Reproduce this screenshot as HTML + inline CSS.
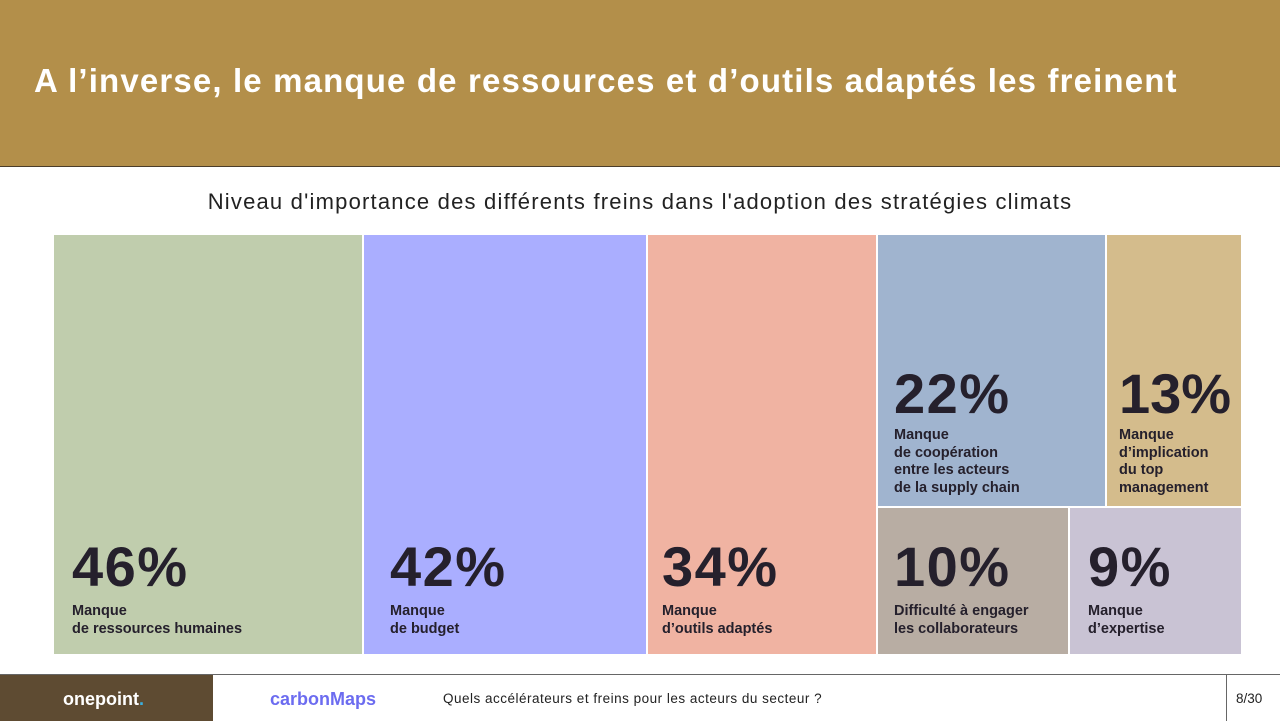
<!DOCTYPE html>
<html><head><meta charset="utf-8"><style>
body{margin:0;width:1280px;height:720px;position:relative;background:#fff;font-family:"Liberation Sans",sans-serif;overflow:hidden}
.hd{position:absolute;left:0;top:0;width:1280px;height:166px;background:#B38F4A;border-bottom:1px solid #4a3d2a}
.hd h1{position:absolute;left:34px;top:62px;margin:0;color:#fff;font-size:33px;font-weight:bold;letter-spacing:1.15px}
.sub{position:absolute;left:0;width:1280px;top:189px;text-align:center;font-size:22px;color:#222;letter-spacing:1.2px}
.c{position:absolute;color:#25202C}
.c .p{position:absolute;left:18px;font-size:56px;font-weight:900;letter-spacing:1.5px;line-height:1}
.c .l{position:absolute;left:18px;font-size:14.5px;font-weight:bold;line-height:17.5px}
.ft{position:absolute;left:0;top:674px;width:1280px;height:46px;border-top:1px solid #666}
</style></head><body>
<div class="hd"><h1>A l’inverse, le manque de ressources et d’outils adaptés les freinent</h1></div>
<div class="sub">Niveau d'importance des différents freins dans l'adoption des stratégies climats</div>

<div class="c" style="left:54px;top:235px;width:308px;height:419px;background:#C0CDAD"><div class="p" style="top:304px">46%</div><div class="l" style="top:368px">Manque<br>de ressources humaines</div></div>
<div class="c" style="left:364px;top:235px;width:282px;height:419px;background:#AAAEFF"><div class="p" style="left:26px;top:304px">42%</div><div class="l" style="left:26px;top:368px">Manque<br>de budget</div></div>
<div class="c" style="left:648px;top:235px;width:228px;height:419px;background:#F0B3A2"><div class="p" style="left:14px;top:304px">34%</div><div class="l" style="left:14px;top:368px">Manque<br>d’outils adaptés</div></div>
<div class="c" style="left:878px;top:235px;width:227px;height:271px;background:#A0B4CF"><div class="p" style="left:16px;top:131px">22%</div><div class="l" style="left:16px;top:192px">Manque<br>de coopération<br>entre les acteurs<br>de la supply chain</div></div>
<div class="c" style="left:1107px;top:235px;width:134px;height:271px;background:#D4BC8C"><div class="p" style="left:12px;top:131px;letter-spacing:0">13%</div><div class="l" style="left:12px;top:192px">Manque<br>d’implication<br>du top<br>management</div></div>
<div class="c" style="left:878px;top:508px;width:190px;height:146px;background:#B8ADA3"><div class="p" style="left:16px;top:31px">10%</div><div class="l" style="left:16px;top:95px">Difficulté à engager<br>les collaborateurs</div></div>
<div class="c" style="left:1070px;top:508px;width:171px;height:146px;background:#C9C3D4"><div class="p" style="left:18px;top:31px">9%</div><div class="l" style="left:18px;top:95px">Manque<br>d’expertise</div></div>

<div class="ft">
<div style="position:absolute;left:0;top:0;width:213px;height:46px;background:#5E4B32"></div>
<div style="position:absolute;left:63px;top:14px;color:#fff;font-weight:bold;font-size:18px">onepoint<span style="color:#3ab0e0">.</span></div>
<div style="position:absolute;left:270px;top:14px;color:#6C6CF0;font-weight:bold;font-size:18px">carbonMaps</div>
<div style="position:absolute;left:443px;top:16px;color:#222;font-size:13.5px;letter-spacing:0.5px">Quels accélérateurs et freins pour les acteurs du secteur ?</div>
<div style="position:absolute;left:1226px;top:0;width:1px;height:46px;background:#666"></div>
<div style="position:absolute;left:1236px;top:16px;color:#222;font-size:13.5px">8/30</div>
</div>
</body></html>
